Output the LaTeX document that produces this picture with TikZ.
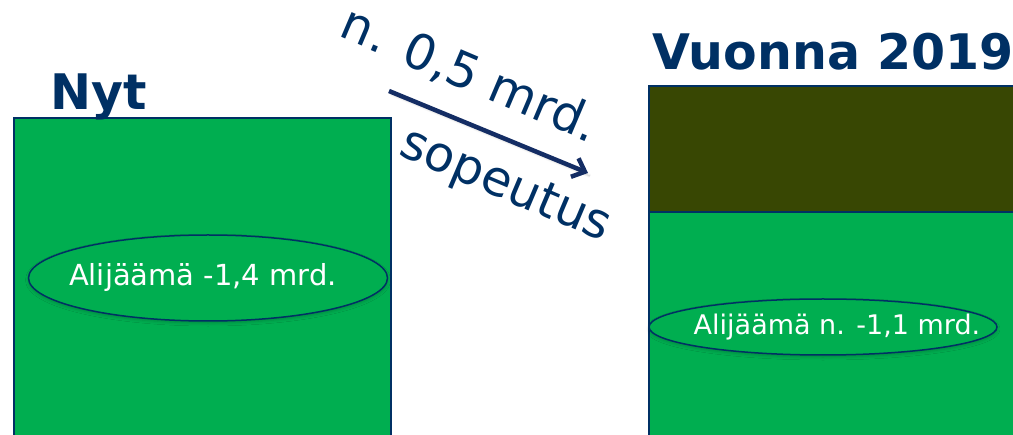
\documentclass[tikz,border=0pt]{standalone}
\usepackage{fontspec}
\setmainfont{DejaVu Sans}
\usetikzlibrary{shapes.geometric,arrows.meta,shadows.blur}
\definecolor{navy}{RGB}{0,48,100}
\definecolor{arrowblue}{RGB}{20,45,100}
\definecolor{boxgreen}{RGB}{0,174,80}
\definecolor{olive}{RGB}{56,71,3}
\tikzset{
  bar/.style={draw=navy, line width=1.5pt, inner sep=0pt, outer sep=0pt},
  title/.style={text=navy, font=\bfseries\fontsize{49}{52}\selectfont, inner sep=0pt, anchor=base},
  oval/.style={ellipse, draw=navy, fill=boxgreen, line width=1.5pt, inner sep=0pt, blur shadow={shadow xshift=0pt, shadow yshift=-2pt, shadow opacity=20, shadow blur radius=3pt}},
  ovaltext/.style={text=white, inner sep=0pt},
  rottext/.style={text=navy, font=\fontsize{49}{52}\selectfont, inner sep=0pt, rotate=-23},
}
\begin{document}
\begin{tikzpicture}[x=1pt,y=-1pt]
\useasboundingbox (0,0) rectangle (1013,435);
\clip (0,0) rectangle (1013,435);
% left box
\node[bar, fill=boxgreen, minimum width=377pt, minimum height=340pt, anchor=north west] (left) at (14,118) {};
\node[title] (nyt) at (99,110) {Nyt};
\node[oval, minimum width=359pt, minimum height=86pt] (ell1) at (208,278) {};
\node[ovaltext, font=\fontsize{29}{32}\selectfont] (t1) at (203,278) {Alijäämä -1,4 mrd.};
% right box
\node[bar, fill=olive, minimum width=400pt, minimum height=126pt, anchor=north west] (top) at (649,86) {};
\node[bar, fill=boxgreen, minimum width=400pt, minimum height=240pt, anchor=north west] (bottom) at (649,212) {};
\node[title] (vuonna) at (833,70) {Vuonna 2019};
\node[oval, minimum width=348pt, minimum height=56pt] (ell2) at (823,327) {};
\node[ovaltext, font=\fontsize{27}{30}\selectfont] (t2) at (837,327) {Alijäämä n. -1,1 mrd.};
% arrow
\coordinate (a1) at (389,91);
\coordinate (a2) at (588,173);
\draw[arrowblue, line width=4.5pt, -{Straight Barb[length=11pt,width=20pt]}, blur shadow={shadow xshift=2pt, shadow yshift=-3pt, shadow opacity=25}] (a1) -- (a2);
\node[rottext] (lbl1) at (470,75) {n. 0,5 mrd.};
\node[rottext] (lbl2) at (505,187) {sopeutus};
\end{tikzpicture}
\end{document}
